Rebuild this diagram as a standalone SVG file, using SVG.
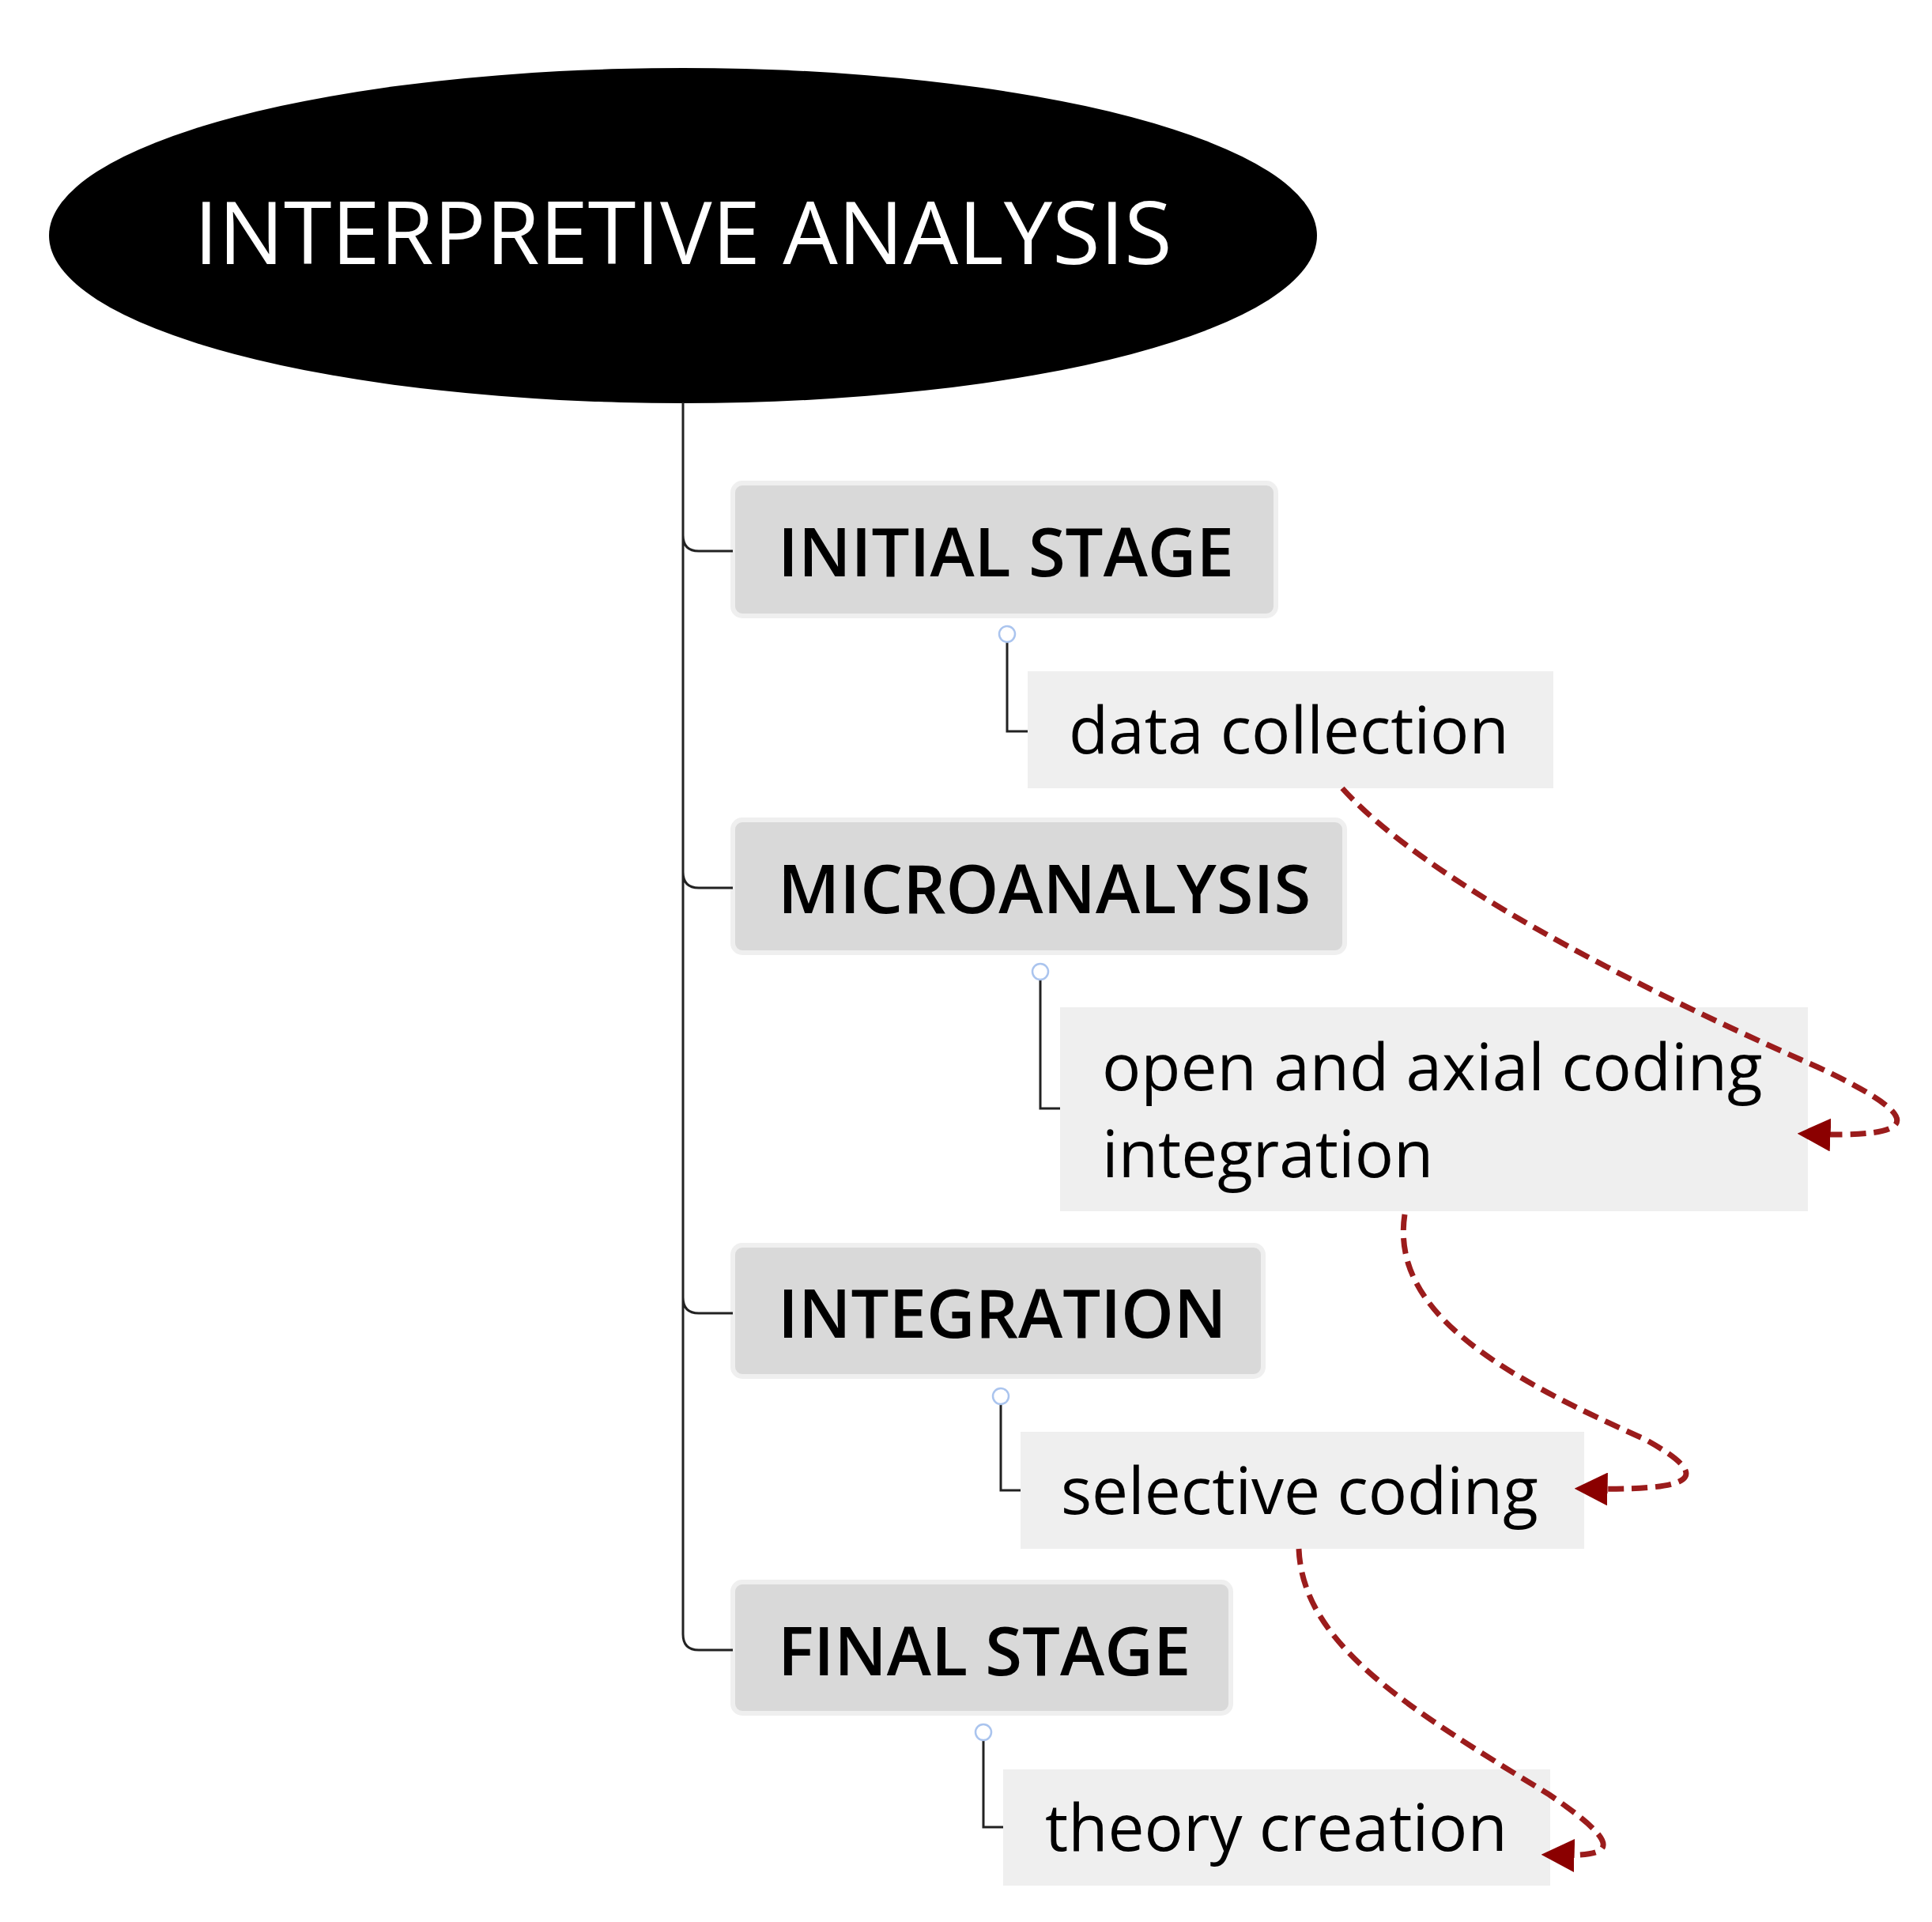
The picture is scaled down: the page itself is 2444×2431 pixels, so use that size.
<svg xmlns="http://www.w3.org/2000/svg" width="2444" height="2431" viewBox="0 0 2444 2431">
<style>
text{font-family:"Open Sans","Noto Sans","Liberation Sans",sans-serif;fill:#000}
.main rect{fill:#d9d9d9;stroke:#efefef;stroke-width:6}
.sub rect{fill:#efefef}
.m{font-size:85px;font-weight:600}
.s{font-size:82px}
.tree{fill:none;stroke:#222;stroke-width:3}
.tog{fill:#fff;stroke:#aac4ee;stroke-width:2.5}
.dash{fill:none;stroke:#9b1c1c;stroke-width:7;stroke-dasharray:20 10}
</style>
<defs>
<marker id="ah" viewBox="0 0 10 10" refX="8" refY="5" markerWidth="6" markerHeight="6" orient="auto"><path d="M0,0L10,5L0,10z" fill="#8b0000"/></marker>
</defs>
<rect width="2444" height="2431" fill="#fff"/>
<g id="root"><ellipse cx="864" cy="298" rx="802" ry="212" fill="#000"/><text x="864" y="334" text-anchor="middle" font-size="110" style="fill:#fff">INTERPRETIVE ANALYSIS</text></g>
<g id="n1" class="main"><rect x="927" y="611" width="687" height="168" rx="12"/><text class="m" x="984" y="729">INITIAL STAGE</text></g>
<g id="n2" class="main"><rect x="927" y="1037" width="774" height="168" rx="12"/><text class="m" x="984" y="1155">MICROANALYSIS</text></g>
<g id="n3" class="main"><rect x="927" y="1575" width="671" height="166" rx="12"/><text class="m" x="984" y="1692">INTEGRATION</text></g>
<g id="n4" class="main"><rect x="927" y="2001" width="630" height="166" rx="12"/><text class="m" x="984" y="2119">FINAL STAGE</text></g>
<g id="c1" class="sub"><rect x="1300" y="849" width="665" height="148"/><text class="s" x="1352" y="953">data collection</text></g>
<g id="c2" class="sub"><rect x="1341" y="1274" width="946" height="258"/><text class="s" x="1394" y="1379">open and axial coding</text><text class="s" x="1394" y="1489">integration</text></g>
<g id="c3" class="sub"><rect x="1291" y="1811" width="713" height="148"/><text class="s" x="1342" y="1915">selective coding</text></g>
<g id="c4" class="sub"><rect x="1269" y="2238" width="692" height="147"/><text class="s" x="1322" y="2341">theory creation</text></g>
<g id="connectors">
<path class="tree" d="M864,509V2067Q864,2087 884,2087H927M864,677Q864,697 884,697H927M864,1103Q864,1123 884,1123H927M864,1641Q864,1661 884,1661H927"/>
<path class="tree" d="M1274,812V925H1300M1316,1239V1402H1341M1266,1776V1885H1291M1244,2201V2311H1269"/>
<circle class="tog" cx="1274" cy="802" r="10"/><circle class="tog" cx="1316" cy="1229" r="10"/><circle class="tog" cx="1266" cy="1766" r="10"/><circle class="tog" cx="1244" cy="2191" r="10"/>
<path class="dash" marker-end="url(#ah)" d="M1698,997C1800,1110 2050,1240 2300,1350C2450,1420 2420,1440 2282,1434"/>
<path class="dash" marker-end="url(#ah)" d="M1777,1536C1758,1660 1900,1740 2080,1820C2180,1875 2130,1885 2000,1883"/>
<path class="dash" marker-end="url(#ah)" d="M1643,1959C1648,2080 1780,2160 1960,2270C2070,2345 2030,2348 1958,2346"/>
</g>
</svg>
